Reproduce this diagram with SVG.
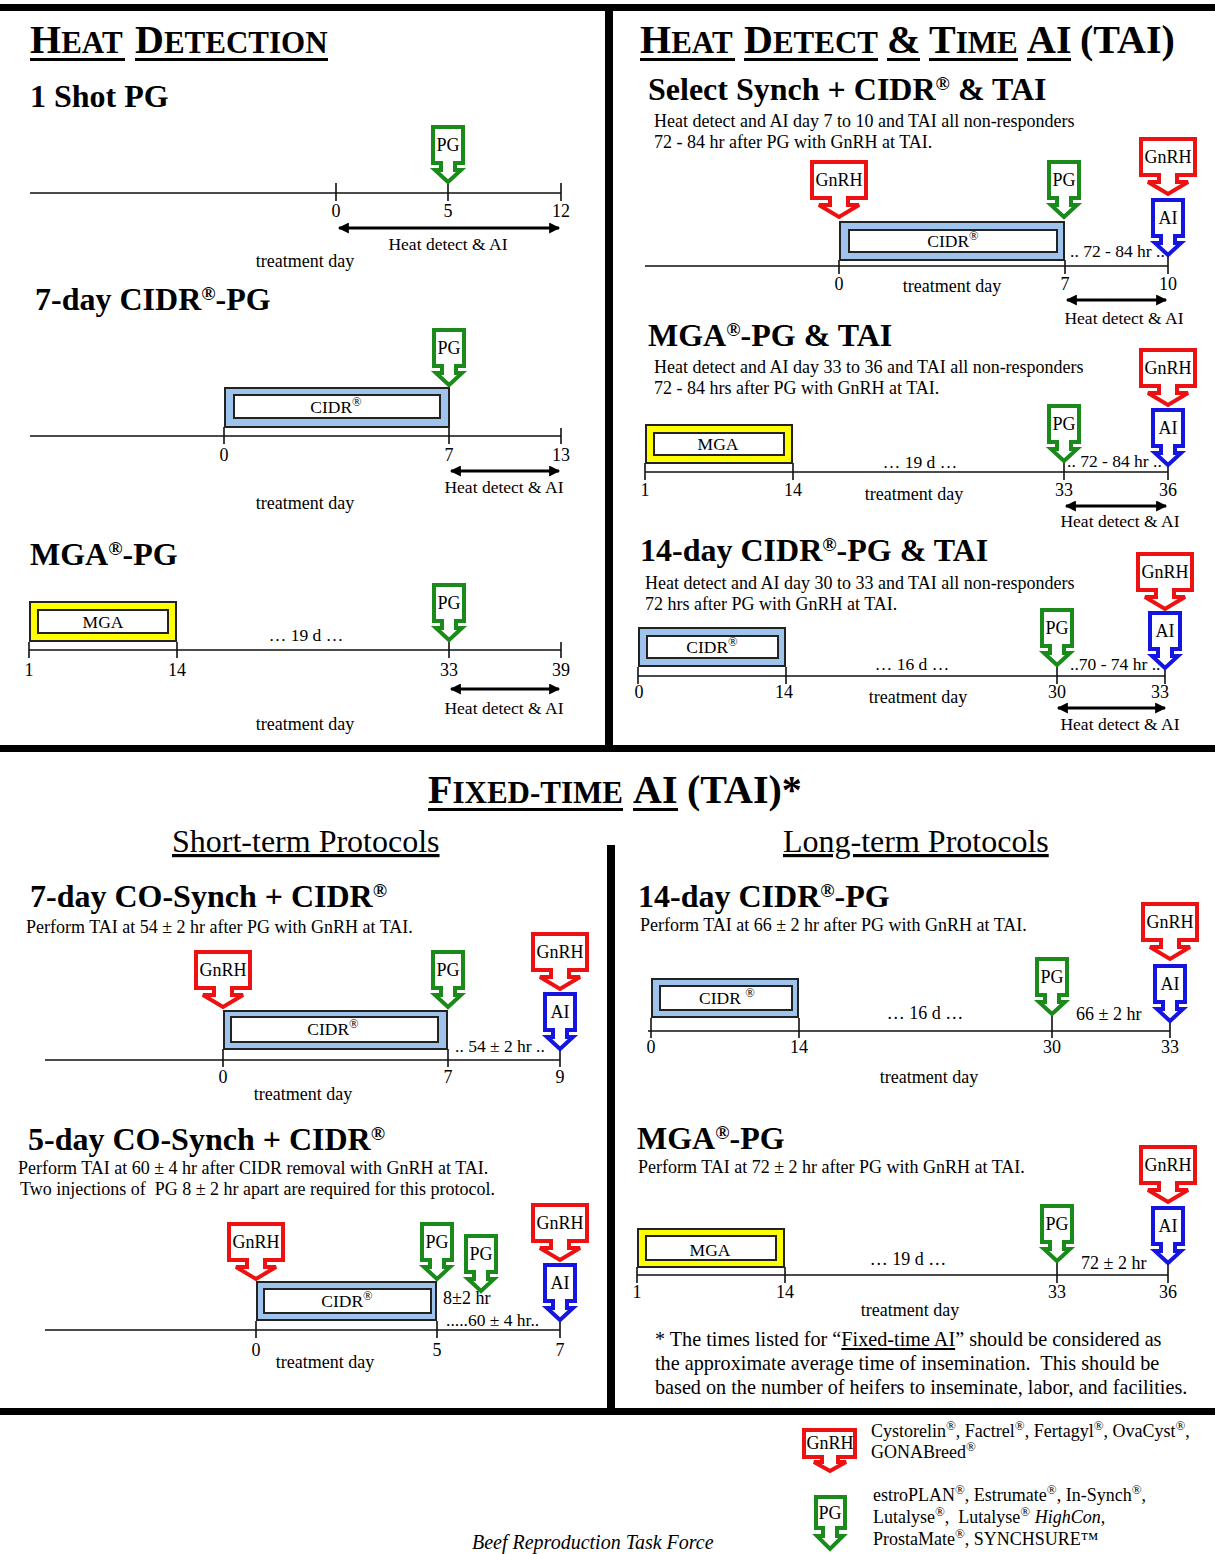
<svg xmlns="http://www.w3.org/2000/svg" xmlns:xlink="http://www.w3.org/1999/xlink" width="1215" height="1554" viewBox="0 0 1215 1554">
<style>
.f{font-family:"Liberation Serif","Times New Roman",serif;fill:#000}
.h{font-size:32px;font-weight:bold}
.h .r{font-size:60%}
.d{font-size:18px}
.s{font-size:17.5px}
.n{font-size:18px}
.cl{font-size:18px;text-anchor:middle}
.m{text-anchor:middle}
.tb{font-weight:bold}
.r{font-size:72%;baseline-shift:super}
.pre{white-space:pre}
.tl{stroke:#111;stroke-width:1.6;fill:none}
.da{stroke:#000;stroke-width:3;marker-start:url(#ah);marker-end:url(#ah)}
.co{fill:#9ec4ec;stroke:#222;stroke-width:2}
.mo{fill:#ffff00;stroke:#222;stroke-width:2}
.in{fill:#fff;stroke:#222;stroke-width:2}
.ul{fill:#000}
.bar{fill:#000}
</style>
<defs>
<marker id="ah" viewBox="0 0 10 10" refX="9" refY="5" markerWidth="12" markerHeight="11" markerUnits="userSpaceOnUse" orient="auto-start-reverse"><path d="M0,0 L10,5 L0,10 Z" fill="#000"/></marker>
<g id="gnrh"><path d="M-27,-56 H27 V-20 H9 V-13 H20 L0,-1 L-20,-13 H-9 V-20 H-27 Z" fill="#fff" stroke="#ee1111" stroke-width="4" stroke-miterlimit="3"/><text x="0" y="-32" class="f cl">GnRH</text></g>
<g id="pg"><path d="M-15,-56 H15 V-20 H7 V-13 H13 L0,-1 L-13,-13 H-7 V-20 H-15 Z" fill="#fff" stroke="#1a8a1a" stroke-width="4" stroke-miterlimit="3"/><text x="0" y="-32" class="f cl">PG</text></g>
<g id="ai"><path d="M-15,-56 H15 V-20 H7 V-13 H13 L0,-1 L-13,-13 H-7 V-20 H-15 Z" fill="#fff" stroke="#1515e0" stroke-width="4" stroke-miterlimit="3"/><text x="0" y="-32" class="f cl">AI</text></g>
</defs>
<rect width="1215" height="1554" fill="#fff"/>

<g id="frame">
<rect class="bar" x="0" y="4" width="1215" height="7"/>
<rect class="bar" x="605" y="4" width="8" height="748"/>
<rect class="bar" x="0" y="745" width="1215" height="7"/>
<rect class="bar" x="607" y="845" width="8" height="568"/>
<rect class="bar" x="0" y="1408" width="1215" height="7"/>
</g>

<g id="titles">
<text x="30" y="53" class="f tb"><tspan font-size="40">H</tspan><tspan font-size="31">EAT</tspan></text>
<text x="135" y="53" class="f tb"><tspan font-size="40">D</tspan><tspan font-size="31">ETECTION</tspan></text>
<rect class="ul" x="30" y="58" width="95" height="3"/>
<rect class="ul" x="135" y="58" width="193" height="3"/>

<text x="640" y="53" class="f tb"><tspan font-size="40">H</tspan><tspan font-size="31">EAT</tspan></text>
<text x="744" y="53" class="f tb"><tspan font-size="40">D</tspan><tspan font-size="31">ETECT</tspan></text>
<text x="887" y="53" class="f tb" font-size="40">&amp;</text>
<text x="929" y="53" class="f tb"><tspan font-size="40">T</tspan><tspan font-size="31">IME</tspan></text>
<text x="1027" y="53" class="f tb" font-size="40">AI</text>
<text x="1080" y="53" class="f tb" font-size="40">(TAI)</text>
<rect class="ul" x="640" y="58" width="95" height="3"/>
<rect class="ul" x="744" y="58" width="134" height="3"/>
<rect class="ul" x="887" y="58" width="33" height="3"/>
<rect class="ul" x="929" y="58" width="89" height="3"/>
<rect class="ul" x="1027" y="58" width="44" height="3"/>

<text x="428" y="803" class="f tb"><tspan font-size="40">F</tspan><tspan font-size="31">IXED-TIME</tspan></text>
<text x="633" y="803" class="f tb" font-size="40">AI</text>
<text x="687" y="803" class="f tb" font-size="40">(TAI)*</text>
<rect class="ul" x="428" y="808" width="195" height="3"/>
<rect class="ul" x="633" y="808" width="45" height="3"/>

<text x="172" y="852" class="f" font-size="32" text-decoration="underline">Short-term Protocols</text>
<text x="783" y="852" class="f" font-size="32" text-decoration="underline">Long-term Protocols</text>
</g>

<g id="headings">
<text x="30" y="107" class="f h">1 Shot PG</text>
<text x="35" y="310" class="f h">7-day CIDR<tspan class="r">®</tspan>-PG</text>
<text x="30" y="565" class="f h">MGA<tspan class="r">®</tspan>-PG</text>
<text x="648" y="100" class="f h">Select Synch + CIDR<tspan class="r">®</tspan> &amp; TAI</text>
<text x="654" y="127" class="f d">Heat detect and AI day 7 to 10 and TAI all non-responders</text>
<text x="654" y="148" class="f d">72 - 84 hr after PG with GnRH at TAI.</text>
<text x="648" y="346" class="f h">MGA<tspan class="r">®</tspan>-PG &amp; TAI</text>
<text x="654" y="373" class="f d">Heat detect and AI day 33 to 36 and TAI all non-responders</text>
<text x="654" y="394" class="f d">72 - 84 hrs after PG with GnRH at TAI.</text>
<text x="640" y="561" class="f h">14-day CIDR<tspan class="r">®</tspan>-PG &amp; TAI</text>
<text x="645" y="589" class="f d">Heat detect and AI day 30 to 33 and TAI all non-responders</text>
<text x="645" y="610" class="f d">72 hrs after PG with GnRH at TAI.</text>
<text x="30" y="907" class="f h">7-day CO-Synch + CIDR<tspan class="r">®</tspan></text>
<text x="26" y="933" class="f d">Perform TAI at 54 ± 2 hr after PG with GnRH at TAI.</text>
<text x="28" y="1150" class="f h">5-day CO-Synch + CIDR<tspan class="r">®</tspan></text>
<text x="18" y="1174" class="f d">Perform TAI at 60 ± 4 hr after CIDR removal with GnRH at TAI.</text>
<text x="20" y="1195" class="f d pre">Two injections of  PG 8 ± 2 hr apart are required for this protocol.</text>
<text x="638" y="907" class="f h">14-day CIDR<tspan class="r">®</tspan>-PG</text>
<text x="640" y="931" class="f d">Perform TAI at 66 ± 2 hr after PG with GnRH at TAI.</text>
<text x="637" y="1149" class="f h">MGA<tspan class="r">®</tspan>-PG</text>
<text x="638" y="1173" class="f d">Perform TAI at 72 ± 2 hr after PG with GnRH at TAI.</text>
</g>

<g id="connectors">
<path class="tl" d="M30,193 H561 M336,183 V201 M448,183 V201 M561,183 V201"/>
<line class="da" x1="339" y1="228" x2="559" y2="228"/>
<path class="tl" d="M30,436 H561 M224,427 V444 M449,427 V444 M561,428 V444"/>
<line class="da" x1="451" y1="471" x2="559" y2="471"/>
<path class="tl" d="M29,650 H561 M29,642 V658 M177,642 V658 M449,641 V658 M561,642 V658"/>
<line class="da" x1="451" y1="689" x2="559" y2="689"/>

<path class="tl" d="M645,266 H1168 M839,260 V274 M1065,260 V274 M1168,256 V274"/>
<line class="da" x1="1067" y1="300" x2="1166" y2="300"/>
<path class="tl" d="M645,472 H1168 M645,463 V480 M793,463 V480 M1064,462 V480 M1168,466 V480"/>
<line class="da" x1="1066" y1="506" x2="1166" y2="506"/>
<path class="tl" d="M638,676 H1165 M638,667 V684 M786,667 V684 M1057,666 V684 M1165,669 V684"/>
<line class="da" x1="1058" y1="708" x2="1165" y2="708"/>

<path class="tl" d="M45,1060 H560 M223,1049 V1067 M448,1049 V1067 M560,1050 V1067"/>
<path class="tl" d="M45,1330 H560 M256,1321 V1338 M437,1321 V1338 M560,1321 V1338"/>
<path class="tl" d="M648,1031 H1170 M651,1018 V1038 M799,1018 V1038 M1052,1015 V1038 M1170,1022 V1038"/>
<path class="tl" d="M637,1275 H1168 M637,1267 V1283 M785,1267 V1283 M1057,1263 V1283 M1168,1264 V1283"/>
</g>

<g id="bars">
<g id="cidr-tl2"><rect class="co" x="225" y="388" width="224" height="39"/><rect class="in" x="234" y="395" width="206" height="23"/><text x="336" y="413" class="f s m">CIDR<tspan class="r">®</tspan></text></g>
<g id="mga-tl3"><rect class="mo" x="30" y="602" width="146" height="39"/><rect class="in" x="38" y="610" width="130" height="23"/><text x="103" y="628" class="f s m">MGA</text></g>
<g id="cidr-tr1"><rect class="co" x="840" y="222" width="224" height="38"/><rect class="in" x="849" y="230" width="208" height="22"/><text x="953" y="247" class="f s m">CIDR<tspan class="r">®</tspan></text></g>
<g id="mga-tr2"><rect class="mo" x="646" y="425" width="146" height="38"/><rect class="in" x="654" y="433" width="130" height="22"/><text x="718" y="450" class="f s m">MGA</text></g>
<g id="cidr-tr3"><rect class="co" x="639" y="628" width="146" height="38"/><rect class="in" x="647" y="636" width="131" height="22"/><text x="712" y="653" class="f s m">CIDR<tspan class="r">®</tspan></text></g>
<g id="cidr-bl1"><rect class="co" x="224" y="1011" width="223" height="38"/><rect class="in" x="231" y="1017" width="207" height="25"/><text x="333" y="1035" class="f s m">CIDR<tspan class="r">®</tspan></text></g>
<g id="cidr-bl2"><rect class="co" x="257" y="1282" width="179" height="38"/><rect class="in" x="264" y="1289" width="167" height="24"/><text x="347" y="1307" class="f s m">CIDR<tspan class="r">®</tspan></text></g>
<g id="cidr-br1"><rect class="co" x="652" y="979" width="146" height="38"/><rect class="in" x="660" y="986" width="132" height="24"/><text x="727" y="1004" class="f s m">CIDR <tspan class="r">®</tspan></text></g>
<g id="mga-br2"><rect class="mo" x="638" y="1229" width="146" height="38"/><rect class="in" x="646" y="1236" width="130" height="24"/><text x="710" y="1256" class="f s m">MGA</text></g>
</g>

<g id="callouts">
<g id="pg-tl1"><use xlink:href="#pg" x="448" y="183"/></g>
<g id="pg-tl2"><use xlink:href="#pg" x="449" y="386"/></g>
<g id="pg-tl3"><use xlink:href="#pg" x="449" y="641"/></g>
<g id="gnrh-tr1a"><use xlink:href="#gnrh" x="839" y="218"/></g>
<g id="pg-tr1"><use xlink:href="#pg" x="1064" y="218"/></g>
<g id="gnrh-tr1b"><use xlink:href="#gnrh" x="1168" y="195"/></g>
<g id="ai-tr1"><use xlink:href="#ai" x="1168" y="256"/></g>
<g id="gnrh-tr2"><use xlink:href="#gnrh" x="1168" y="406"/></g>
<g id="ai-tr2"><use xlink:href="#ai" x="1168" y="466"/></g>
<g id="pg-tr2"><use xlink:href="#pg" x="1064" y="462"/></g>
<g id="gnrh-tr3"><use xlink:href="#gnrh" x="1165" y="610"/></g>
<g id="ai-tr3"><use xlink:href="#ai" x="1165" y="669"/></g>
<g id="pg-tr3"><use xlink:href="#pg" x="1057" y="666"/></g>
<g id="gnrh-bl1a"><use xlink:href="#gnrh" x="223" y="1008"/></g>
<g id="pg-bl1"><use xlink:href="#pg" x="448" y="1008"/></g>
<g id="gnrh-bl1b"><use xlink:href="#gnrh" x="560" y="990"/></g>
<g id="ai-bl1"><use xlink:href="#ai" x="560" y="1050"/></g>
<g id="gnrh-bl2a"><use xlink:href="#gnrh" x="256" y="1280"/></g>
<g id="pg-bl2a"><use xlink:href="#pg" x="437" y="1280"/></g>
<g id="pg-bl2b"><use xlink:href="#pg" x="481" y="1292"/></g>
<g id="gnrh-bl2b"><use xlink:href="#gnrh" x="560" y="1261"/></g>
<g id="ai-bl2"><use xlink:href="#ai" x="560" y="1321"/></g>
<g id="gnrh-br1"><use xlink:href="#gnrh" x="1170" y="960"/></g>
<g id="ai-br1"><use xlink:href="#ai" x="1170" y="1022"/></g>
<g id="pg-br1"><use xlink:href="#pg" x="1052" y="1015"/></g>
<g id="gnrh-br2"><use xlink:href="#gnrh" x="1168" y="1203"/></g>
<g id="ai-br2"><use xlink:href="#ai" x="1168" y="1264"/></g>
<g id="pg-br2"><use xlink:href="#pg" x="1057" y="1262"/></g>
</g>

<g id="labels" class="f s">
<text x="336" y="217" class="m n">0</text><text x="448" y="217" class="m n">5</text><text x="561" y="217" class="m n">12</text>
<text x="448" y="250" class="m">Heat detect &amp; AI</text>
<text x="305" y="267" class="m d">treatment day</text>

<text x="224" y="461" class="m n">0</text><text x="449" y="461" class="m n">7</text><text x="561" y="461" class="m n">13</text>
<text x="504" y="493" class="m">Heat detect &amp; AI</text>
<text x="305" y="509" class="m d">treatment day</text>

<text x="306" y="641" class="m">… 19 d …</text>
<text x="29" y="676" class="m n">1</text><text x="177" y="676" class="m n">14</text><text x="449" y="676" class="m n">33</text><text x="561" y="676" class="m n">39</text>
<text x="504" y="714" class="m">Heat detect &amp; AI</text>
<text x="305" y="730" class="m d">treatment day</text>

<text x="1070" y="257">.. 72 - 84 hr ..</text>
<text x="839" y="290" class="m n">0</text><text x="1065" y="290" class="m n">7</text><text x="1168" y="290" class="m n">10</text>
<text x="952" y="292" class="m d">treatment day</text>
<text x="1124" y="324" class="m">Heat detect &amp; AI</text>

<text x="920" y="468" class="m">… 19 d …</text>
<text x="1067" y="467">.. 72 - 84 hr ..</text>
<text x="645" y="496" class="m n">1</text><text x="793" y="496" class="m n">14</text><text x="1064" y="496" class="m n">33</text><text x="1168" y="496" class="m n">36</text>
<text x="914" y="500" class="m d">treatment day</text>
<text x="1120" y="527" class="m">Heat detect &amp; AI</text>

<text x="912" y="670" class="m">… 16 d …</text>
<text x="1070" y="670">..70 - 74 hr ..</text>
<text x="639" y="698" class="m n">0</text><text x="784" y="698" class="m n">14</text><text x="1057" y="698" class="m n">30</text><text x="1160" y="698" class="m n">33</text>
<text x="918" y="703" class="m d">treatment day</text>
<text x="1120" y="730" class="m">Heat detect &amp; AI</text>

<text x="455" y="1052">.. 54 ± 2 hr ..</text>
<text x="223" y="1083" class="m n">0</text><text x="448" y="1083" class="m n">7</text><text x="560" y="1083" class="m n">9</text>
<text x="303" y="1100" class="m d">treatment day</text>

<text x="443" y="1304" class="d">8±2 hr</text>
<text x="446" y="1326">.....60 ± 4 hr..</text>
<text x="256" y="1356" class="m n">0</text><text x="437" y="1356" class="m n">5</text><text x="560" y="1356" class="m n">7</text>
<text x="325" y="1368" class="m d">treatment day</text>

<text x="925" y="1019" class="m d">… 16 d …</text>
<text x="1076" y="1020" class="d">66 ± 2 hr</text>
<text x="651" y="1053" class="m n">0</text><text x="799" y="1053" class="m n">14</text><text x="1052" y="1053" class="m n">30</text><text x="1170" y="1053" class="m n">33</text>
<text x="929" y="1083" class="m d">treatment day</text>

<text x="908" y="1265" class="m d">… 19 d …</text>
<text x="1081" y="1269" class="d">72 ± 2 hr</text>
<text x="637" y="1298" class="m n">1</text><text x="785" y="1298" class="m n">14</text><text x="1057" y="1298" class="m n">33</text><text x="1168" y="1298" class="m n">36</text>
<text x="910" y="1316" class="m d">treatment day</text>
</g>

<g id="footnote" class="f" font-size="20.2">
<text x="655" y="1346">* The times listed for “<tspan text-decoration="underline">Fixed-time AI</tspan>” should be considered as</text>
<text x="655" y="1370" class="pre">the approximate average time of insemination.  This should be</text>
<text x="655" y="1394">based on the number of heifers to inseminate, labor, and facilities.</text>
</g>

<g id="legend">
<g id="legend-gnrh"><path d="M804,1430 H855 V1457 H838 V1462 H846 L830,1471 L814,1462 H822 V1457 H804 Z" fill="#fff" stroke="#ee1111" stroke-width="4" stroke-miterlimit="3"/><text x="830" y="1449" class="f cl">GnRH</text></g>
<text x="871" y="1437" class="f n">Cystorelin<tspan class="r">®</tspan>, Factrel<tspan class="r">®</tspan>, Fertagyl<tspan class="r">®</tspan>, OvaCyst<tspan class="r">®</tspan>,</text>
<text x="871" y="1458" class="f n">GONABreed<tspan class="r">®</tspan></text>
<g id="legend-pg"><path d="M816,1497 H845 V1528 H837 V1536 H843 L830,1549 L817,1536 H823 V1528 H816 Z" fill="#fff" stroke="#1a8a1a" stroke-width="4" stroke-miterlimit="3"/><text x="830" y="1519" class="f cl">PG</text></g>
<text x="873" y="1501" class="f n">estroPLAN<tspan class="r">®</tspan>, Estrumate<tspan class="r">®</tspan>, In-Synch<tspan class="r">®</tspan>,</text>
<text x="873" y="1523" class="f n pre">Lutalyse<tspan class="r">®</tspan>,  Lutalyse<tspan class="r">®</tspan> <tspan font-style="italic">HighCon</tspan>,</text>
<text x="873" y="1545" class="f n">ProstaMate<tspan class="r">®</tspan>, SYNCHSURE™</text>
</g>

<text x="472" y="1549" class="f" font-size="20" font-style="italic">Beef Reproduction Task Force</text>
</svg>
